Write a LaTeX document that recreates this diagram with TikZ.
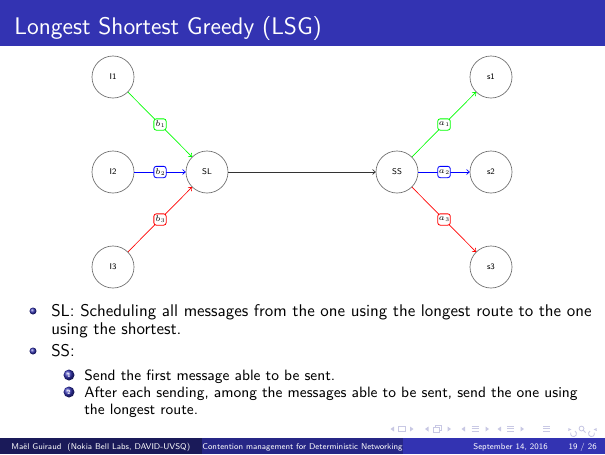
\documentclass[tikz,border=0pt]{standalone}
\usetikzlibrary{arrows.meta}
\definecolor{bblue}{RGB}{51,51,178}
\definecolor{bmid}{RGB}{38,38,134}
\definecolor{bdark}{RGB}{26,26,89}
\definecolor{navc}{RGB}{200,200,228}
\definecolor{ringgray}{RGB}{110,110,110}
% edge label: italic letter with a small index
\newcommand\flowlabel[2]{$#1$\kern0.15pt\raisebox{-0.7pt}{\fontsize{3.4}{4}\selectfont #2}}
\begin{document}
\begin{tikzpicture}[x=0.5997pt,y=-0.5997pt,
  every node/.style={inner sep=0pt},
  station/.style={circle, draw=ringgray, line width=0.4pt, minimum size=25.2pt, font=\sffamily\tiny},
  tag/.style={draw=#1, fill=white, rounded corners=1.5pt, minimum width=7.4pt, minimum height=6.8pt, inner sep=0.6pt, line width=0.5pt, font=\tiny},
  flow/.style={draw=#1, line width=0.4pt, -{To[length=2pt,width=3.2pt]}},
  body/.style={anchor=base west, font=\sffamily\fontsize{10.15}{12}\selectfont},
  subbody/.style={anchor=base west, font=\sffamily\fontsize{9}{11}\selectfont},
  foot/.style={text=white, font=\sffamily\tiny},
  itemball/.style={circle, shading=ball, ball color=bblue, minimum size=#1}]
\useasboundingbox (0,0) rectangle (605,454);
\fill[white] (0,0) rectangle (605,454);

% frame title bar
\fill[bblue] (0,0) rectangle (605,46);
\node[anchor=base west, text=white, font=\sffamily\fontsize{14.4}{17}\selectfont] (title) at (14,34) {Longest Shortest Greedy (LSG)};

% stations
\node[station] (I1) at (113,77) {I1};
\node[station] (I2) at (113,172) {I2};
\node[station] (I3) at (113,267) {I3};
\node[station] (SL) at (207,172) {SL};
\node[station] (SS) at (397,172) {SS};
\node[station] (s1) at (491,77) {s1};
\node[station] (s2) at (491,172) {s2};
\node[station] (s3) at (491,267) {s3};

% flows into SL
\draw[flow=green] (I1) -- node[tag=green] (b1) {\flowlabel{b}{1}} (SL);
\draw[flow=blue] (I2) -- node[tag=blue] (b2) {\flowlabel{b}{2}} (SL);
\draw[flow=red] (I3) -- node[tag=red] (b3) {\flowlabel{b}{3}} (SL);
% SL to SS
\draw[flow=black!80] (SL) -- (SS);
% flows out of SS
\draw[flow=green] (SS) -- node[tag=green] (a1) {\flowlabel{a}{1}} (s1);
\draw[flow=blue] (SS) -- node[tag=blue] (a2) {\flowlabel{a}{2}} (s2);
\draw[flow=red] (SS) -- node[tag=red] (a3) {\flowlabel{a}{3}} (s3);

% itemize
\node[itemball=4.2pt] (ib1) at (33,311) {};
\node[body] (t1) at (51,316) {SL: Scheduling all messages from the one using the longest route to the one};
\node[body] (t2) at (51,334) {using the shortest.};
\node[itemball=4.2pt] (ib2) at (33,351) {};
\node[body] (t3) at (51,356) {SS:};
% enumerate
\node[itemball=6.6pt, text=white, font=\sffamily\fontsize{3.5}{4}\selectfont\bfseries] (n1) at (69,375) {1};
\node[subbody] (t4) at (84,380) {Send the first message able to be sent.};
\node[itemball=6.6pt, text=white, font=\sffamily\fontsize{3.5}{4}\selectfont\bfseries] (n2) at (69,392) {2};
\node[subbody] (t5) at (84,397) {After each sending, among the messages able to be sent, send the one using};
\node[subbody] (t6) at (84,414) {the longest route.};

% navigation symbols
\begin{scope}[navc, line width=0.5pt]
  % slide
  \fill (394,426.5) -- (390.5,429) -- (394,431.5) -- cycle;
  \draw (398.5,426.5) rectangle (405.5,431.5);
  \fill (410,426.5) -- (413.5,429) -- (410,431.5) -- cycle;
  % frame
  \fill (428.5,426.5) -- (425,429) -- (428.5,431.5) -- cycle;
  \draw (433,427.5) rectangle (439,432);
  \draw (435,427.5) -- (435,425.5) -- (441,425.5) -- (441,430) -- (439,430);
  \fill (447.5,426.5) -- (451,429) -- (447.5,431.5) -- cycle;
  % subsection
  \fill (465,426.5) -- (461.5,429) -- (465,431.5) -- cycle;
  \draw (471.5,426) -- (478.5,426) (471.5,428.5) -- (478.5,428.5) (471.5,431) -- (478.5,431);
  \fill (485.5,426.5) -- (489,429) -- (485.5,431.5) -- cycle;
  % section
  \fill (501,426.5) -- (497.5,429) -- (501,431.5) -- cycle;
  \draw (507,426) -- (514,426) (507,428.5) -- (514,428.5) (507,431) -- (514,431);
  \fill (520.5,426.5) -- (524,429) -- (520.5,431.5) -- cycle;
  % document
  \draw (543,426) -- (550,426) (543,428.5) -- (550,428.5) (543,431) -- (550,431);
  % back, search, forward
  \draw (575,431) arc (-60:200:3);
  \fill (568.5,428) -- (571.5,429.5) -- (568.2,431) -- cycle;
  \draw (581.5,428.5) circle (2.4);
  \draw (583.2,430.2) -- (585.5,432.5);
  \draw (590,431) arc (240:-20:3);
  \fill (596.5,428) -- (593.5,429.5) -- (596.8,431) -- cycle;
\end{scope}

% footline
\fill[bdark] (0,438) rectangle (201.7,454);
\fill[bmid] (201.7,438) rectangle (403.3,454);
\fill[bblue] (403.3,438) rectangle (605,454);
\node[foot, anchor=base] (author) at (100.8,449) {Maël Guiraud~~(Nokia Bell Labs, DAVID-UVSQ)};
\node[foot, anchor=base] (talk) at (302.5,449) {Contention management for Deterministic Networking};
\node[foot, anchor=base east] (date) at (548,449) {September 14, 2016};
\node[foot, anchor=base east] (page) at (597,449) {19 / 26};
\end{tikzpicture}
\end{document}
